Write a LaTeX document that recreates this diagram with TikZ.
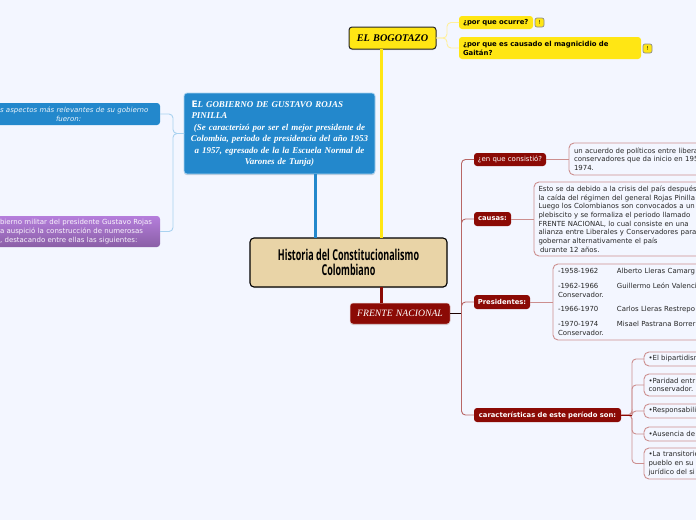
\documentclass[tikz,border=0pt]{standalone}
\usepackage{fontspec}
\usetikzlibrary{shadows,calc}
\setmainfont{DejaVu Sans}
\newfontfamily\vd{DejaVu Sans}
\newfontfamily\tn{Liberation Serif}
\newfontfamily\cond[FakeStretch=0.6]{Open Sans}
\definecolor{bgc}{HTML}{F3F6FF}
\definecolor{yel}{HTML}{FFE614}
\definecolor{blu}{HTML}{2388CC}
\definecolor{blul}{HTML}{A9D2F0}
\definecolor{dred}{HTML}{8B0A05}
\definecolor{redl}{HTML}{CC8F8F}
\definecolor{yell}{HTML}{FFF09C}
\definecolor{tan}{HTML}{E9D4A7}
\definecolor{pur1}{HTML}{B57EDC}
\definecolor{pur2}{HTML}{8A5FA6}
\newcommand{\bx}[8][]{%
  \pgfmathsetmacro{\bxw}{#5-#3}\pgfmathsetmacro{\bxh}{#6-#4}%
  \pgfmathsetmacro{\bxt}{#5-#3-2*#7}%
  \node[basebox,#1,minimum width=\bxw pt,minimum height=\bxh pt,text width=\bxt pt] (#2) at ({(#3+#5)/2},{(#4+#6)/2}) {#8};}
\newcommand{\pres}[2]{\makebox[59pt][l]{#1}#2}
\tikzset{
  x=1pt,y=-1pt,
  basebox/.style={inner sep=0pt,outer sep=0pt,rounded corners=3pt,align=left},
  small/.style={font=\vd\fontsize{6.95}{8.65}\selectfont},
  central/.style={fill=tan,draw=black,line width=1.1pt,rounded corners=4pt,align=center,font=\cond\bfseries\fontsize{15}{15.5}\selectfont,
    drop shadow={shadow xshift=0pt,shadow yshift=-1pt,opacity=.25}},
  yelmain/.style={fill=yel,draw=black!85,line width=1pt,align=center,font=\tn\bfseries\itshape\fontsize{10.2}{12}\selectfont,
    drop shadow={shadow xshift=0pt,shadow yshift=-1pt,opacity=.35}},
  yelsub/.style={fill=yel,draw=none,font=\vd\bfseries\fontsize{6.9}{9}\selectfont},
  badge/.style={fill=yel,draw=black!45,line width=.7pt,rounded corners=2pt,align=center,font=\vd\fontsize{5.5}{6}\selectfont},
  blumain/.style={fill=blu,draw=blul,line width=.8pt,text=white,font=\tn\bfseries\itshape\fontsize{8.95}{11.5}\selectfont,
    drop shadow={shadow xshift=0pt,shadow yshift=-1.2pt,opacity=.3}},
  blusub/.style={fill=blu,text=white!90!blu,font=\vd\itshape\fontsize{7}{9}\selectfont},
  pursub/.style={top color=pur1,bottom color=pur2,text=white!92!pur1,font=\vd\fontsize{7}{8.9}\selectfont},
  redmain/.style={fill=dred,text=white,draw=white!80!dred,line width=.5pt,align=center,font=\tn\itshape\fontsize{9.7}{12}\selectfont,
    drop shadow={shadow xshift=0pt,shadow yshift=-1pt,opacity=.3}},
  redsub/.style={fill=dred,text=white,align=center,font=\vd\fontsize{6.95}{9}\selectfont},
  redsubb/.style={redsub,font=\vd\bfseries\fontsize{6.8}{9}\selectfont},
  note/.style={small,draw=redl,line width=.9pt,fill=bgc,rounded corners=5pt,text=black!85},
  trunk/.style={line width=3pt},
  brk/.style={line width=.9pt,rounded corners=4pt},
}
\begin{document}
\begin{tikzpicture}
\useasboundingbox (0,0) rectangle (696,520);
\clip (0,0) rectangle (696,520);
\fill[bgc] (0,0) rectangle (696,520);
% main nodes
\bx[central]{hist}{250}{238}{447}{287}{8}{\mbox{Historia\hspace{2.4pt}del\hspace{2.4pt}Constitucionalismo}\\Colombiano}
\bx[yelmain]{bog}{349}{27}{436}{49}{3}{EL BOGOTAZO}
\bx[blumain]{gob}{184}{93}{375}{174}{7.5}{{\vd\bfseries\upshape E}L GOBIERNO DE GUSTAVO ROJAS\\PINILLA\\
\makebox[\linewidth][c]{(Se caracterizó por ser el mejor presidente de}\\
\makebox[\linewidth][c]{Colombia, periodo de presidencia del año 1953}\\
\makebox[\linewidth][c]{a 1957, egresado de la la Escuela Normal de}\\
\makebox[\linewidth][c]{Varones de Tunja)}}
\bx[redmain]{fn}{350}{303}{450}{324}{3}{FRENTE NACIONAL}
% trunks
\draw[trunk,draw=yel] (bog.south) ++(-11,0) coordinate (bogs) -- (bogs |- hist.north);
\draw[trunk,draw=blu] (gob.south) ++(36,0) coordinate (gobs) -- (gobs |- hist.north);
\draw[trunk,draw=dred] (fn.north) ++(-18.5,0) coordinate (fnn) -- (fnn |- hist.south);
% yellow branch
\bx[yelsub]{q1}{459}{16}{533}{29}{4}{\mbox{¿por que ocurre?}}
\bx[yelsub]{q2}{459}{37}{641}{59}{4}{\mbox{¿por que es causado el magnicidio de}\\Gaitán?}
\bx[badge]{b1}{535}{18}{544}{27}{0}{!}
\bx[badge]{b2}{643}{44}{652}{53}{0}{!}
\draw[brk,draw=yell] (bog.east) -- ++(11,0) |- (q1.west);
\draw[brk,draw=yell] (bog.east) -- ++(11,0) |- (q2.west);
% blue branch
\bx[blusub]{asp}{-3}{103}{160}{125}{3}{\mbox{s aspectos más relevantes de su gobierno}\\\hspace*{56pt}fueron:}
\bx[pursub]{mil}{-3}{216}{160}{247}{3}{\mbox{bierno militar del presidente Gustavo Rojas}\\\mbox{a auspició la construcción de numerosas}\\\mbox{, destacando entre ellas las siguientes:}}
\draw[brk,draw=blul] (gob.west) -- ++(-11,0) |- (asp.east);
\draw[brk,draw=blul] (gob.west) -- ++(-11,0) |- (mil.east);
% red branch
\bx[redsub]{c1}{474}{153}{546}{166}{1}{\mbox{¿en que consistió?}}
\bx[redsubb]{c2}{474}{212}{511}{226}{1}{\mbox{causas:}}
\bx[redsubb]{c3}{474}{295}{530}{309}{1}{\mbox{Presidentes:}}
\bx[redsubb]{c4}{474}{408}{621}{422}{1}{\mbox{características de este período son:}}
\draw[line width=.9pt,draw=black!80!dred] (fn.east) -- ++(11.5,0) coordinate (spine);
\foreach \t in {c1,c2,c3,c4}{\draw[brk,draw=redl!70!dred] (spine) |- (\t.west);}
\bx[note]{n1}{569}{143}{720}{175}{5}{\mbox{un acuerdo de políticos entre libera}\\\mbox{conservadores que da inicio en 195}\\1974.}
\bx[note]{n2}{534}{182}{720}{256}{4.5}{\mbox{Esto se da debido a la crisis del país después}\\\mbox{la caída del régimen del general Rojas Pinilla}\\\mbox{Luego los Colombianos son convocados a un}\\\mbox{plebiscito y se formaliza el periodo llamado}\\\mbox{FRENTE NACIONAL, lo cual consiste en una}\\\mbox{alianza entre Liberales y Conservadores para}\\\mbox{gobernar alternativamente el país}\\\hspace*{1.5pt}durante 12 años.}
\bx[note]{n3}{553}{264}{720}{340}{5}{\pres{-1958-1962}{Alberto Lleras Camarg}\\[6pt]\pres{-1962-1966}{Guillermo León Valenci}\\Conservador.\\[6pt]\pres{-1966-1970}{Carlos Lleras Restrepo}\\[6pt]\pres{-1970-1974}{Misael Pastrana Borrer}\\Conservador.}
\draw[brk,draw=redl] (c1.east) -- (n1.west |- c1.east);
\draw[brk,draw=redl] (c2.east) -- (n2.west |- c2.east);
\draw[brk,draw=redl] (c3.east) -- (n3.west |- c3.east);
\bx[note]{d1}{644}{352}{720}{366}{4.5}{•El bipartidisn}
\bx[note]{d2}{644}{374}{720}{396}{4.5}{•Paridad entr\\conservador.}
\bx[note]{d3}{644}{404}{720}{418}{4.5}{•Responsabili}
\bx[note]{d4}{644}{427}{720}{441}{4.5}{•Ausencia de}
\bx[note]{d5}{644}{448}{720}{479}{4.5}{•La transitorie\\pueblo en su\\jurídico del si}
\foreach \t in {d1,d2,d3,d4,d5}{\draw[brk,draw=redl] (c4.east) -- ++(11,0) |- (\t.west);}
\draw[line width=.9pt,draw=dred] (c4.east) -- ++(11,0);
\end{tikzpicture}
\end{document}
